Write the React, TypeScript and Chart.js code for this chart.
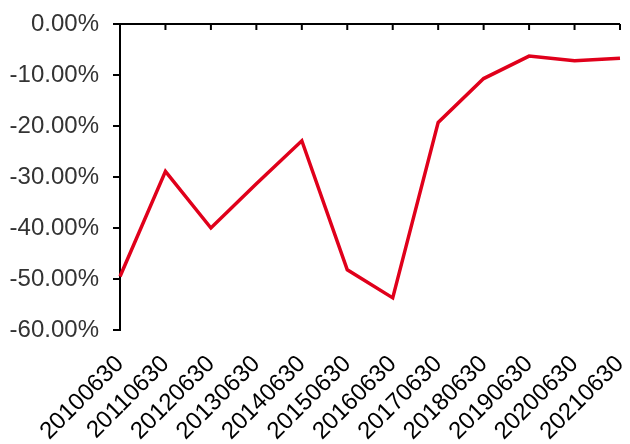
import React, { useEffect, useRef } from "react";
import { Chart, registerables } from "chart.js";

Chart.register(...registerables);

const categories = [
  "20100630", "20110630", "20120630", "20130630", "20140630", "20150630",
  "20160630", "20170630", "20180630", "20190630", "20200630", "20210630",
];
const values = [-0.495, -0.289, -0.40, -0.313, -0.229, -0.482, -0.537, -0.193, -0.107, -0.063, -0.072, -0.067];
const yTicks = [0, -0.1, -0.2, -0.3, -0.4, -0.5, -0.6];

const FONT = "'Liberation Sans', Arial, sans-serif";

const topAxisPlugin = {
  id: "topAxis",
  afterDraw(chart: any) {
    const { ctx } = chart;
    const x = chart.scales.x;
    const y = chart.scales.y;
    const y0 = y.getPixelForValue(0);
    ctx.save();
    ctx.strokeStyle = "#000";
    ctx.lineWidth = 2;
    ctx.beginPath();
    ctx.moveTo(x.left - 1, y0);
    ctx.lineTo(x.right, y0);
    for (let i = 0; i < categories.length; i++) {
      const px = x.getPixelForValue(i);
      ctx.moveTo(px, y0);
      ctx.lineTo(px, y0 + 6);
    }
    ctx.stroke();
    ctx.restore();
  },
};

export default function App() {
  const ref = useRef<HTMLCanvasElement>(null);
  useEffect(() => {
    const chart = new Chart(ref.current!, {
      type: "line",
      data: {
        labels: categories,
        datasets: [
          {
            data: values,
            borderColor: "#E0001B",
            borderWidth: 3.5,
            pointRadius: 0,
            tension: 0,
            fill: false,
          },
        ],
      },
      options: {
        animation: false,
        responsive: false,
        maintainAspectRatio: false,
        layout: { padding: { left: 0, right: 10, top: 24, bottom: 0 } },
        plugins: { legend: { display: false }, tooltip: { enabled: false } },
        scales: {
          x: {
            offset: false,
            border: { display: false },
            grid: { display: false },
            ticks: {
              color: "#000",
              font: { family: FONT, size: 24 },
              maxRotation: 45,
              minRotation: 45,
              autoSkip: false,
              padding: 12,
            },
            afterFit: (s: any) => {
              s.height = 114;
              s.paddingLeft = 0;
              s.paddingRight = 0;
            },
          },
          y: {
            min: -0.6,
            max: 0,
            afterBuildTicks: (s: any) => {
              s.ticks = yTicks.map((v) => ({ value: v }));
            },
            border: { display: true, color: "#000", width: 2 },
            grid: {
              display: true,
              drawOnChartArea: false,
              drawTicks: true,
              tickLength: 7,
              color: "#000",
              lineWidth: 2,
            },
            ticks: {
              color: "#333",
              font: { family: FONT, size: 24 },
              padding: 14,
              callback: (v: any) => (Number(v) * 100).toFixed(2) + "%",
            },
            afterFit: (s: any) => {
              s.width = 120;
              s.paddingTop = 0;
              s.paddingBottom = 0;
            },
          },
        },
      },
      plugins: [topAxisPlugin],
    });
    return () => chart.destroy();
  }, []);
  return (
    <div style={{ position: "absolute", left: 0, top: 0, width: 630, height: 444 }}>
      <canvas ref={ref} width={630} height={444} style={{ width: 630, height: 444 }} />
    </div>
  );
}
